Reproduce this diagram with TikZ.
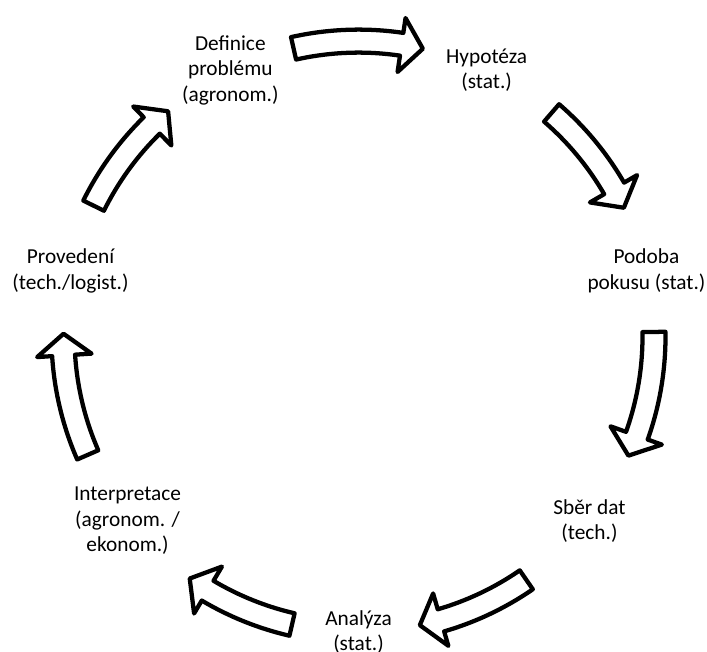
\documentclass[tikz,border=0pt]{standalone}
\usepackage{fontspec}
\setmainfont{Carlito}
\usetikzlibrary{calc}
\tikzstyle{blockarrow}=[draw=black,fill=white,line width=3.2pt,line join=round]
\tikzstyle{stage}=[align=center,inner sep=0pt,font=\fontsize{16pt}{19pt}\selectfont]
\def\radius{295.4}
\newcommand{\cyclearrow}[2]{% Syntax: {tail angle}{tip angle}, arrow runs clockwise
\pgfmathsetmacro{\tailangle}{#1-0.4}
\pgfmathsetmacro{\tipangle}{#2+0.4}
\pgfmathsetmacro{\baseangle}{\tipangle+4.2}
\draw[blockarrow] ($(c)+(\tailangle:284)$) arc (\tailangle:\baseangle:284)
  -- ($(c)+(\baseangle:267.5)$) -- ($(c)+(\tipangle:295)$) -- ($(c)+(\baseangle:322)$)
  -- ($(c)+(\baseangle:307)$) arc (\baseangle:\tailangle:307) -- cycle;
}

\begin{document}
\begin{tikzpicture}[x=0.75pt,y=0.75pt]
\useasboundingbox (0,0) rectangle (707,652);
\coordinate (c) at (358.5,315.4);
% stages, clockwise from the top left
\foreach \nm/\txt [count=\k from 0] in {def/{Definice\\problému\\(agronom.)},
    hyp/{Hypotéza\\(stat.)}, pod/{Podoba\\pokusu (stat.)}, sber/{Sběr dat\\(tech.)},
    anal/{Analýza\\(stat.)}, interp/{Interpretace\\(agronom. /\\ekonom.)},
    prov/{Provedení\\(tech./logist.)}}
  \node[stage] (\nm) at ($(c)+(115.714-\k*51.4286:\radius)$) {\txt};
% arrows between the stages
\foreach \ta/\tb in {103.1/77.0, 49.6/25.5, 1.3/-24.2, -55.0/-78.4,
    257.4/234.7, 204.0/179.05, 154.1/129.8} {
  \cyclearrow{\ta}{\tb}
}
\end{tikzpicture}
\end{document}
